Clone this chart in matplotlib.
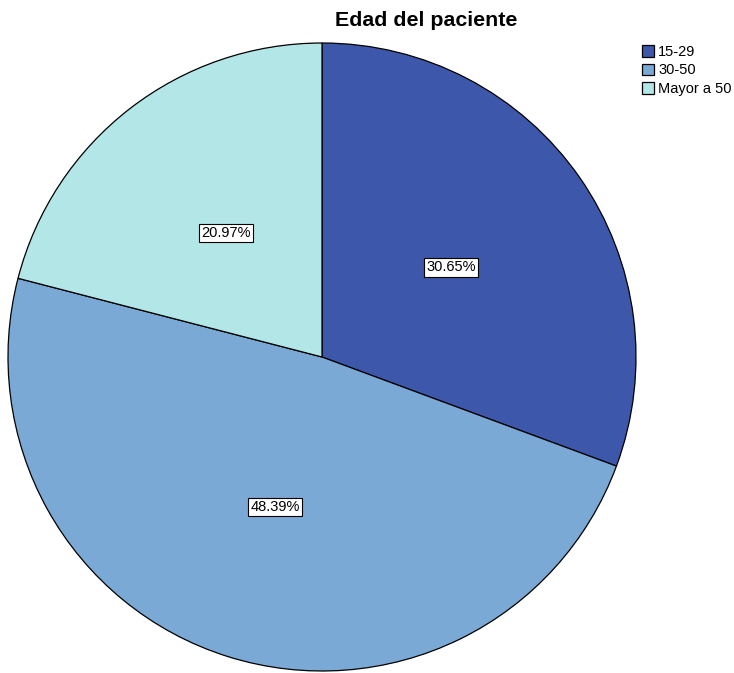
import matplotlib
matplotlib.use("Agg")
import matplotlib.pyplot as plt

plt.rcParams['font.family'] = ['Liberation Sans', 'DejaVu Sans']

title = "Edad del paciente"
categories = ["15-29", "30-50", "Mayor a 50"]
percentages = [30.65, 48.39, 20.97]
colors = ["#3d57ab", "#7aa9d6", "#b3e6e6"]

W, H = 734, 673
fig = plt.figure(figsize=(W / 100, H / 100), dpi=100)
ax = fig.add_axes([0, 0, 1, 1])

wedges, texts, autotexts = ax.pie(
    percentages,
    colors=colors,
    startangle=90,
    counterclock=False,
    center=(322, H - 357),
    radius=314,
    autopct=lambda p: f"{p:.2f}%",
    pctdistance=0.5,
    wedgeprops=dict(edgecolor='black', linewidth=0.9),
    textprops=dict(fontsize=10.5, color='black'),
    frame=True,
)
ax.set_xlim(0, W)
ax.set_ylim(0, H)
ax.set_aspect('equal')
ax.axis('off')

for t, v in zip(autotexts, percentages):
    t.set_text(f"{v:.2f}%")
    t.set_bbox(dict(boxstyle='square,pad=0.15', facecolor='white', edgecolor='black', linewidth=0.8))

fig.text(426 / W, 1 - 21 / H, title, ha='center', va='center', fontsize=15.4, fontweight='bold')

fig.legend(wedges, categories, loc='upper left', bbox_to_anchor=(642 / W, 1 - 45 / H),
           frameon=False, fontsize=10.5, borderpad=0, borderaxespad=0,
           handlelength=0.85, handleheight=0.85, handletextpad=0.25, labelspacing=0.3)

fig.savefig("out.png", dpi=100, facecolor='white')
